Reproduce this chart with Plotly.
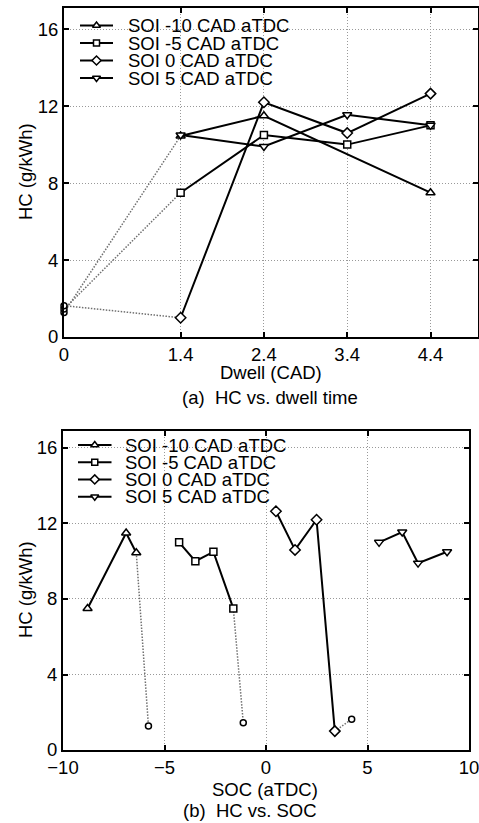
import plotly.graph_objects as go

# ---------------- data ----------------
series_names = ["SOI -10 CAD aTDC", "SOI -5 CAD aTDC", "SOI 0 CAD aTDC", "SOI 5 CAD aTDC"]
symbols = ["triangle-up", "square", "diamond", "triangle-down"]

dwell_m10 = [1.4, 2.4, 4.4]
hc_m10 = [10.45, 11.5, 7.5]
soc_m10 = [-6.39, -6.89, -8.79]

dwell_m5 = [1.4, 2.4, 3.4, 4.4]
hc_m5 = [7.5, 10.5, 10.0, 11.0]
soc_m5 = [-1.61, -2.59, -3.48, -4.28]

dwell_0 = [1.4, 2.4, 3.4, 4.4]
hc_0 = [1.0, 12.2, 10.6, 12.65]
soc_0 = [3.39, 2.49, 1.43, 0.49]

dwell_p5 = [1.4, 2.4, 3.4, 4.4]
hc_p5 = [10.5, 9.9, 11.55, 11.0]
soc_p5 = [8.92, 7.49, 6.71, 5.57]

# zero-dwell (single injection) points for SOI -10, -5, 0
zero_hc = [1.27, 1.45, 1.63]
zero_soc = [-5.79, -1.12, 4.22]

dwell_ticks = [0, 1.4, 2.4, 3.4, 4.4]
soc_ticks = [-10, -5, 0, 5, 10]
hc_ticks = [0, 4, 8, 12, 16]

# ---------------- layout constants ----------------
W, H = 479, 823
FONT = "Liberation Sans, Arial, Helvetica, sans-serif"
FS = 18.5

def px_x(p):
    return p / W

def px_y(p):
    return 1 - p / H

fig = go.Figure()

dwell_sets = [dwell_m10, dwell_m5, dwell_0, dwell_p5]
hc_sets = [hc_m10, hc_m5, hc_0, hc_p5]
soc_sets = [soc_m10, soc_m5, soc_0, soc_p5]
msize = {"triangle-up": 8, "square": 7, "diamond": 8, "triangle-down": 8}

DOT_COLOR = "#707070"
DOT_DASH = "1.5px,1.5px"

# dotted connections to zero-dwell points
for i in range(3):
    fig.add_trace(go.Scatter(x=[0, dwell_sets[i][0]], y=[zero_hc[i], hc_sets[i][0]],
                             mode="lines", line=dict(color=DOT_COLOR, width=1.5, dash=DOT_DASH),
                             xaxis="x", yaxis="y", showlegend=False, hoverinfo="skip"))
    fig.add_trace(go.Scatter(x=[soc_sets[i][0], zero_soc[i]], y=[hc_sets[i][0], zero_hc[i]],
                             mode="lines", line=dict(color=DOT_COLOR, width=1.5, dash=DOT_DASH),
                             xaxis="x2", yaxis="y2", showlegend=False, hoverinfo="skip"))

# main series
for i in range(4):
    mk = dict(symbol=symbols[i], size=msize[symbols[i]], color="white",
              line=dict(color="black", width=1.5))
    fig.add_trace(go.Scatter(x=dwell_sets[i], y=hc_sets[i], mode="lines+markers",
                             line=dict(color="black", width=2), marker=mk,
                             name=series_names[i], xaxis="x", yaxis="y", showlegend=False))
    fig.add_trace(go.Scatter(x=soc_sets[i], y=hc_sets[i], mode="lines+markers",
                             line=dict(color="black", width=2), marker=mk,
                             name=series_names[i], xaxis="x2", yaxis="y2", showlegend=False))

# zero-dwell markers
zmk = dict(symbol="circle", size=6, color="white", line=dict(color="black", width=1.5))
fig.add_trace(go.Scatter(x=[0] * len(zero_hc), y=zero_hc, mode="markers", marker=zmk,
                         xaxis="x", yaxis="y", showlegend=False, cliponaxis=False))
fig.add_trace(go.Scatter(x=zero_soc, y=zero_hc, mode="markers", marker=zmk,
                         xaxis="x2", yaxis="y2", showlegend=False))

# ---------------- manual legends (pixel overlay axes) ----------------
legends = [
    dict(x0=80, x1=113, tx=126, rows=[25.5, 43.0, 60.5, 78.0]),
    dict(x0=78, x1=111.5, tx=123, rows=[445.0, 462.2, 479.4, 496.7]),
]
annotations = []
for lg in legends:
    for i, ry in enumerate(lg["rows"]):
        fig.add_trace(go.Scatter(x=[lg["x0"], lg["x1"]], y=[ry, ry], mode="lines",
                                 line=dict(color="black", width=2),
                                 xaxis="x3", yaxis="y3", showlegend=False, hoverinfo="skip"))
        fig.add_trace(go.Scatter(x=[(lg["x0"] + lg["x1"]) / 2], y=[ry], mode="markers",
                                 marker=dict(symbol=symbols[i], size=msize[symbols[i]] - 1, color="white",
                                             line=dict(color="black", width=1.5)),
                                 xaxis="x3", yaxis="y3", showlegend=False, hoverinfo="skip"))
        annotations.append(dict(x=lg["tx"], y=ry, xref="x3", yref="y3", text=series_names[i],
                                showarrow=False, xanchor="left", yanchor="middle",
                                font=dict(family=FONT, size=FS, color="black")))

# axis titles and captions
def ann(text, x, y, angle=0):
    annotations.append(dict(x=px_x(x), y=px_y(y), xref="paper", yref="paper", text=text,
                            showarrow=False, xanchor="center", yanchor="middle", textangle=angle,
                            font=dict(family=FONT, size=FS, color="black")))

ann("HC (g/kWh)", 25, 172, -90)
ann("Dwell (CAD)", 271, 372)
ann("(a)\u00a0 HC vs. dwell time", 270, 397)
ann("HC (g/kWh)", 25, 590, -90)
ann("SOC (aTDC)", 265, 789)
ann("(b)\u00a0 HC vs. SOC", 250, 810)

axis_common = dict(showline=True, linecolor="black", linewidth=2, mirror="ticks",
                   ticks="inside", ticklen=5, tickwidth=1.5, tickcolor="black",
                   showgrid=True, gridcolor="#999999", gridwidth=1, griddash="1px,2px",
                   zeroline=False, automargin=False, ticklabeloverflow="allow",
                   tickfont=dict(family=FONT, size=FS, color="black"))

fig.update_layout(
    width=W, height=H,
    margin=dict(l=0, r=0, t=0, b=0, pad=0),
    paper_bgcolor="white", plot_bgcolor="rgba(0,0,0,0)",
    showlegend=False,
    font=dict(family=FONT, size=FS, color="black"),
    xaxis=dict(domain=[px_x(64), px_x(478)], range=[0, 4.97], tickvals=dwell_ticks,
               ticktext=["0", "1.4", "2.4", "3.4", "4.4"], anchor="y", **axis_common),
    yaxis=dict(domain=[px_y(337), px_y(8)], range=[0, 17.1], tickvals=hc_ticks,
               anchor="x", **axis_common),
    xaxis2=dict(domain=[px_x(63), px_x(469)], range=[-10, 10], tickvals=soc_ticks,
                anchor="y2", **axis_common),
    yaxis2=dict(domain=[px_y(750), px_y(431)], range=[0, 16.9], tickvals=hc_ticks,
                anchor="x2", **axis_common),
    xaxis3=dict(domain=[0, 1], range=[0, W], visible=False, anchor="y3", fixedrange=True,
                automargin=False),
    yaxis3=dict(domain=[0, 1], range=[H, 0], visible=False, anchor="x3", fixedrange=True,
                automargin=False),
    annotations=annotations,
)

fig.write_html("out.html")
